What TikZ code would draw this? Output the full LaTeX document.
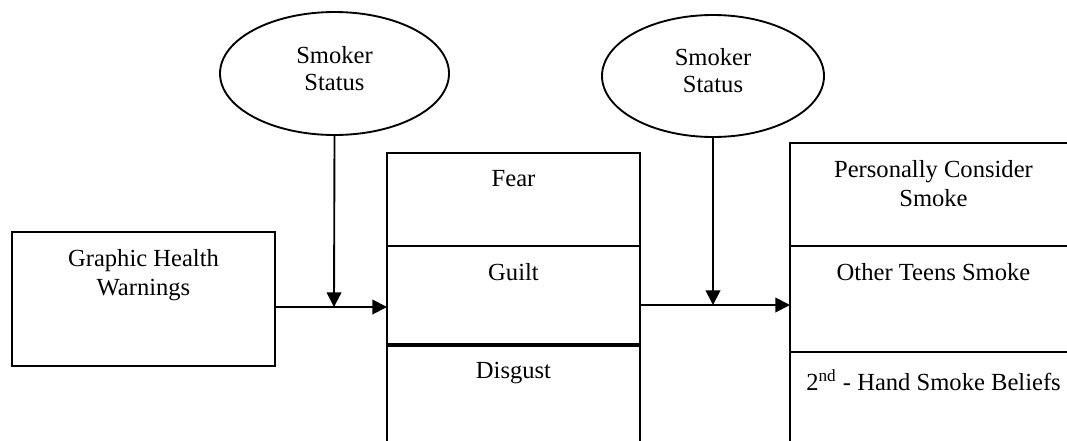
\documentclass[tikz,border=0pt]{standalone}
\usepackage{fontspec}
\setmainfont{Liberation Serif}
\usetikzlibrary{arrows.meta,shapes.geometric,positioning}
\newdimen\px \px=0.48pt

\begin{document}
\begin{tikzpicture}[x=0.48pt,y=-0.48pt,>={Triangle[length=7pt,width=7pt]},
                    line width=0.9pt,font=\fontsize{11.8}{14}\selectfont]
	  \tikzstyle{cell}=[draw=black,rectangle,inner sep=0pt,outer sep=0pt,minimum width=253\px]
	  \tikzstyle{moderator}=[draw=black,ellipse,inner sep=0pt,align=center,
	                         font=\fontsize{11.8}{13}\selectfont]
	  \tikzstyle{celltext}=[anchor=north,align=center,yshift=-4.5pt]

	  \useasboundingbox (0,0) rectangle (1067,440);

	  \node[cell,minimum width=263\px,minimum height=134\px] (ghw) at (143.5,299) {};

	  \node[cell,minimum height=93\px] (fear) at (513.5,199.5) {};
	  \node[cell,minimum height=99\px] (guilt) [below=0pt of fear] {};
	  \node[cell,minimum height=125\px] (disgust) [below=0pt of guilt] {};

	  \node[cell,minimum width=287\px,minimum height=103\px] (consider) at (933.5,194.5) {};
	  \node[cell,minimum width=287\px,minimum height=106\px] (teens) [below=0pt of consider] {};
	  \node[cell,minimum width=287\px,minimum height=118\px] (hand) [below=0pt of teens] {};

	  \draw[line width=1.6pt] (disgust.north west) -- (disgust.north east);

	  \node[moderator,minimum width=229\px,minimum height=123\px] (status1) at (334.5,73.5) {};
	  \node[moderator,minimum width=222\px,minimum height=122\px] (status2) at (713,76) {};
	  \node[align=center,font=\fontsize{11.8}{13}\selectfont] (status1-t) at (334.5,68.5) {Smoker\\Status};
	  \node[align=center,font=\fontsize{11.8}{13}\selectfont] (status2-t) at (713,70.5) {Smoker\\Status};

	  \node[celltext] (ghw-t) at (ghw.north) {Graphic Health\\Warnings};
	  \node[celltext] (fear-t) at (fear.north) {Fear};
	  \node[celltext] (guilt-t) at (guilt.north) {Guilt};
	  \node[celltext] (disgust-t) at (disgust.north) {Disgust};
	  \node[celltext] (consider-t) at (consider.north) {Personally Consider\\Smoke};
	  \node[celltext] (teens-t) at (teens.north) {Other Teens Smoke};
	  \node[celltext] (hand-t) at (hand.north) {2\textsuperscript{nd} - Hand Smoke Beliefs};

	  \coordinate (join1) at (334,307);
	  \coordinate (join2) at (713,305);

	  \draw[->] (ghw.east |- join1) -- (guilt.west |- join1);
	  \draw[->] (status1.south) -- (join1);
	  \draw[->] (guilt.east |- join2) -- (teens.west |- join2);
	  \draw[->] (status2.south) -- (join2);
	\end{tikzpicture}
\end{document}
